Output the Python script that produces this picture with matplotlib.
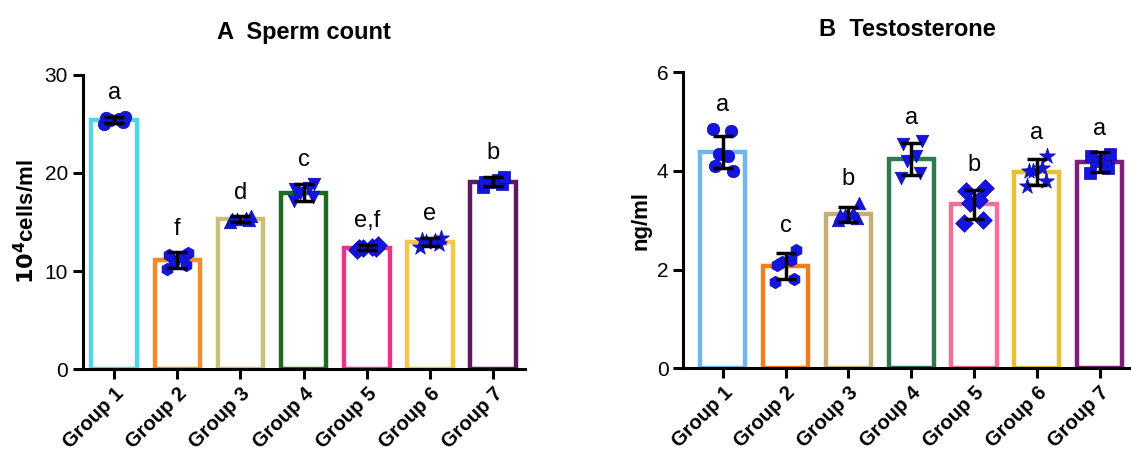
import matplotlib.pyplot as plt
import numpy as np

plt.rcParams['font.family'] = ['Liberation Sans', 'DejaVu Sans']

groups = ['Group 1', 'Group 2', 'Group 3', 'Group 4', 'Group 5', 'Group 6', 'Group 7']

# A: sperm count (10^4 cells/ml)
sperm_mean = [25.4, 11.1, 15.3, 18.0, 12.4, 13.0, 19.1]
sperm_sd = [0.35, 0.8, 0.3, 0.9, 0.3, 0.4, 0.45]
sperm_pts = [
    [25.0, 25.2, 25.4, 25.5, 25.7, 25.6],
    [10.2, 10.6, 11.0, 11.4, 11.8, 11.6],
    [15.0, 15.2, 15.3, 15.4, 15.6, 15.3],
    [17.1, 17.6, 18.0, 18.5, 18.9, 18.4],
    [12.1, 12.3, 12.4, 12.5, 12.7, 12.4],
    [12.5, 12.8, 13.0, 13.1, 13.4, 13.2],
    [18.6, 18.9, 19.1, 19.3, 19.6, 19.1],
]
sperm_letters = ['a', 'f', 'd', 'c', 'e,f', 'e', 'b']

# B: testosterone (ng/ml)
testo_mean = [4.38, 2.07, 3.12, 4.24, 3.32, 3.98, 4.18]
testo_sd = [0.33, 0.26, 0.15, 0.33, 0.3, 0.26, 0.2]
testo_pts = [
    [4.85, 4.8, 4.35, 4.3, 4.0, 4.1],
    [1.75, 1.8, 2.15, 2.2, 2.4, 2.1],
    [3.0, 3.05, 3.1, 3.15, 3.35, 3.1],
    [3.85, 3.95, 4.2, 4.3, 4.6, 4.55],
    [2.95, 3.0, 3.35, 3.4, 3.65, 3.6],
    [3.7, 3.8, 4.0, 4.05, 4.3, 4.0],
    [3.95, 4.05, 4.2, 4.25, 4.35, 4.3],
]
testo_letters = ['a', 'c', 'b', 'a', 'b', 'a', 'a']

colors_a = ['#55D3E8', '#F28C28', '#C9C07C', '#1D6B22', '#E8338A', '#F0C84A', '#5E1A5E']
colors_b = ['#6DB6EE', '#F07E1E', '#C6AE78', '#2E7A4F', '#F0709A', '#E8C030', '#7B1E7A']
markers = ['o', 'h', '^', 'v', 'D', '*', 's']

fig = plt.figure(figsize=(11.31, 4.54), dpi=100)
axA = fig.add_axes([0.073, 0.187, 0.391, 0.648])
axB = fig.add_axes([0.604, 0.189, 0.396, 0.652])

jit = np.array([-0.16, 0.14, -0.06, 0.08, 0.17, -0.13])


def panel(ax, mean, sd, pts, letters, colors, ylim, yticks, ylabel, title, left):
    x = np.arange(len(groups))
    ax.bar(x, mean, width=0.72, facecolor='white', edgecolor=colors, linewidth=3.2, zorder=2)
    for i in range(len(groups)):
        ms = 12 if markers[i] == '*' else 9
        ax.scatter(x[i] + jit, pts[i], marker=markers[i], s=ms ** 2, color='#1515E0',
                   edgecolor='#0A0AB0', linewidth=0.5, zorder=3)
    ax.errorbar(x, mean, yerr=sd, fmt='none', ecolor='black', elinewidth=2.5,
                capsize=7, capthick=2.5, zorder=4)
    for i in range(len(groups)):
        top = max(mean[i] + sd[i], max(pts[i]))
        ax.annotate(letters[i], (x[i], top), xytext=(0, 9), textcoords='offset points',
                    ha='center', va='bottom', fontsize=17)
    ax.set_xlim(left, len(groups) - 0.5)
    ax.set_ylim(*ylim)
    ax.set_yticks(yticks)
    ax.set_xticks(x)
    ax.set_xticklabels(groups, rotation=45, ha='right', rotation_mode='anchor',
                       fontsize=14.5, fontweight='bold')
    for t in ax.get_yticklabels():
        t.set_fontsize(15)
    ax.spines['top'].set_visible(False)
    ax.spines['right'].set_visible(False)
    ax.spines['left'].set_linewidth(2.2)
    ax.spines['bottom'].set_linewidth(2.2)
    ax.tick_params(width=2.2, length=7)
    ax.set_ylabel(ylabel, fontsize=16, fontweight='bold')
    ax.set_title(title, fontsize=17, fontweight='bold', pad=26)


panel(axA, sperm_mean, sperm_sd, sperm_pts, sperm_letters, colors_a, (0, 30), [0, 10, 20, 30],
      r'$\mathbf{10^4}$cells/ml', 'A  Sperm count', -0.5)
panel(axB, testo_mean, testo_sd, testo_pts, testo_letters, colors_b, (0, 6), [0, 2, 4, 6],
      'ng/ml', 'B  Testosterone', -0.63)

fig.savefig('out.png', dpi=100)
